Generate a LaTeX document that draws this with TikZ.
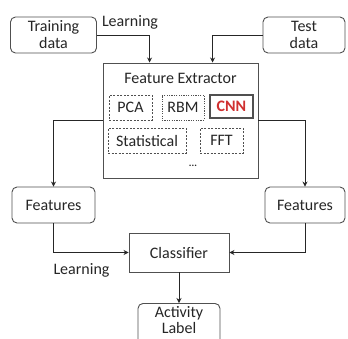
\documentclass[tikz,border=0pt]{standalone}
\usepackage{fontspec}
\setmainfont{Carlito}
\usetikzlibrary{arrows.meta}
\definecolor{edge}{HTML}{505050}
\definecolor{ink}{HTML}{262626}
\definecolor{cnnred}{HTML}{D03030}
\newcommand{\txtsize}{\fontsize{16}{17}\selectfont}
\tikzset{
  rbox/.style={draw=edge, line width=0.9pt, rounded corners=5pt, align=center,
    text=ink, font=\txtsize, inner sep=0pt},
  sbox/.style={draw=edge, line width=0.9pt, align=center, text=ink,
    font=\txtsize, inner sep=0pt},
  algo/.style={draw=edge, line width=0.8pt, dashed, dash pattern=on 2pt off 1.5pt,
    text=ink, font=\txtsize, inner sep=0pt},
  link/.style={draw=ink, line width=0.8pt, -{Stealth[length=5pt,width=5pt]}},
  lbl/.style={text=ink, font=\txtsize, inner sep=0pt}
}
\begin{document}
\begin{tikzpicture}[x=1pt,y=-1pt]
\useasboundingbox (0,0) rectangle (348,338);
\clip (0,0) rectangle (348,338);
\fill[white] (0,0) rectangle (348,338);

% input data
\node[rbox, minimum width=86pt, minimum height=36pt] (train) at (53.5,35) {Training\\data};
\node[rbox, minimum width=82pt, minimum height=36pt] (test) at (304,35) {Test\\data};
\node[lbl] (learn1) at (130,22) {Learning};

% feature extractor with its methods
\node[sbox, minimum width=155pt, minimum height=115pt] (fe) at (180.5,120.5) {};
\node[lbl] (fetitle) at (180.5,78) {Feature Extractor};
\node[algo, minimum width=43pt, minimum height=25pt] (pca) at (130.5,107.5) {PCA};
\node[algo, dash pattern=on 1.2pt off 1.2pt, minimum width=42pt, minimum height=25pt] (rbm) at (183,107.5) {RBM};
\node[draw=edge, line width=1.1pt, minimum width=43pt, minimum height=23pt, inner sep=0pt,
  text=cnnred, font=\txtsize\bfseries] (cnn) at (231.5,106.5) {CNN};
\node[algo, minimum width=78pt, minimum height=25pt] (stat) at (147,140.5) {Statistical};
\node[algo, minimum width=43pt, minimum height=25pt] (fft) at (221.5,140.5) {FFT};
\node[lbl, font=\fontsize{10}{10}\selectfont\bfseries] (dots) at (193,166) {...};

% features and classifier
\node[rbox, minimum width=83pt, minimum height=36pt] (featL) at (53.5,205) {Features};
\node[rbox, minimum width=80pt, minimum height=36pt] (featR) at (305,205) {Features};
\node[sbox, minimum width=100pt, minimum height=39pt] (cls) at (179,252.5) {Classifier};
\node[lbl] (learn2) at (81.5,270) {Learning};
\node[rbox, minimum width=82pt, minimum height=44pt, anchor=north] (act) at (179,303) {};
\node[lbl, align=center, font=\fontsize{16}{16}\selectfont] (acttext) at (179,320) {Activity\\Label};

% connectors
\draw[link] (train.east) -| ([xshift=47pt]fe.north west);
\draw[link] (test.west) -| ([xshift=110pt]fe.north west);
\draw[link] (fe.west) -| (featL.north);
\draw[link] (fe.east) -| (featR.north);
\draw[link] (featL.south) |- (cls.west);
\draw[link] (featR.south) |- (cls.east);
\draw[link] (cls.south) -- (act.north);
\end{tikzpicture}
\end{document}
